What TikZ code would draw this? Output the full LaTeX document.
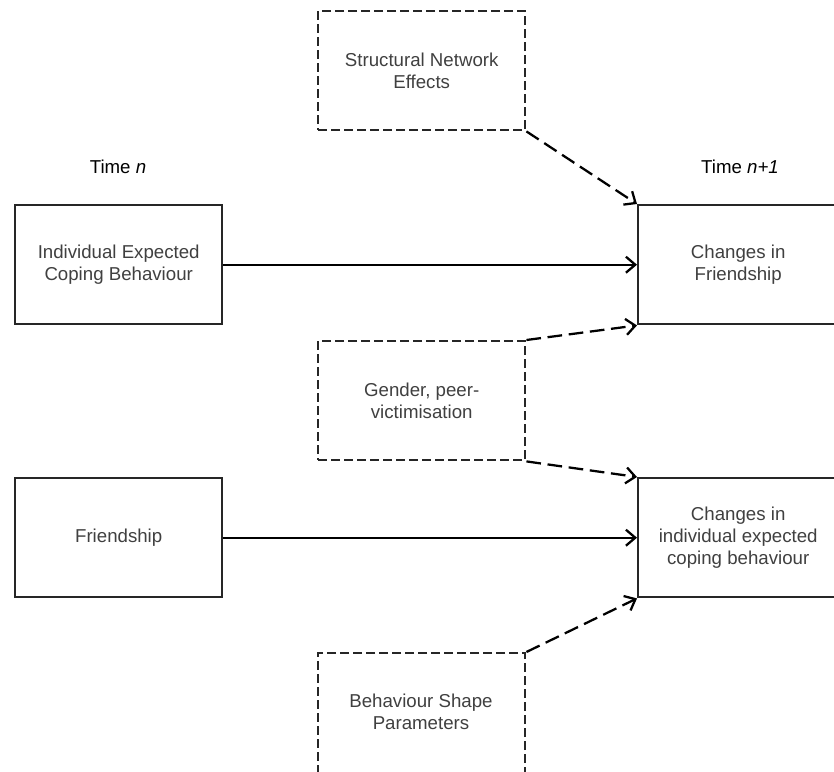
\documentclass[tikz,border=0pt]{standalone}
\usepackage{fontspec}
\setmainfont{Liberation Sans}
\usetikzlibrary{arrows.meta}
\begin{document}
\begin{tikzpicture}[x=0.75pt,y=-0.75pt,
  box/.style={draw=black!85, line width=1.8pt, minimum width={207*0.75pt}, minimum height={119*0.75pt},
    align=center, text=black!75, font=\fontsize{14}{16.5}\selectfont, inner sep=0pt, anchor=north west},
  wbox/.style={box, minimum width={200*0.75pt}},
  dbox/.style={box, dash pattern=on 6.75pt off 3pt},
  conn/.style={draw=black, line width=1.7pt, -{Straight Barb[length=7pt,width=12pt,line width=1.7pt]}},
  dconn/.style={conn, dash pattern=on 11pt off 5pt},
  lbl/.style={font=\fontsize{14}{16.5}\selectfont, text=black}]
\clip (0,0) rectangle (834,771);
\fill[white] (0,0) rectangle (834,771);

\node[dbox] (sne) at (317,10) {Structural Network\\Effects};
\node[lbl] (tn) at (118,167) {Time \textit{n}};
\node[lbl] (tn1) at (740,167) {Time \textit{n+1}};
\node[box] (iecb) at (14,204) {Individual Expected\\Coping Behaviour};
\node[wbox] (cf) at (637,204) {Changes in\\Friendship};
\node[dbox] (gpv) at (317,340) {Gender, peer-\\victimisation};
\node[box] (fr) at (14,477) {Friendship};
\node[wbox] (cie) at (637,477) {Changes in\\individual expected\\coping behaviour};
\node[dbox, minimum height={124*0.75pt}] (bsp) at (317,652) {};
\node[font=\fontsize{14}{16.5}\selectfont, text=black!75, align=center] (bspt) at (421,712) {Behaviour Shape\\Parameters};

\draw[conn] (iecb.east) -- (cf.west);
\draw[conn] (fr.east) -- (cie.west);
\draw[dconn] (sne.south east) -- (cf.north west);
\draw[dconn] (gpv.north east) -- (cf.south west);
\draw[dconn] (gpv.south east) -- (cie.north west);
\draw[dconn] (bsp.north east) -- (cie.south west);
\end{tikzpicture}
\end{document}
